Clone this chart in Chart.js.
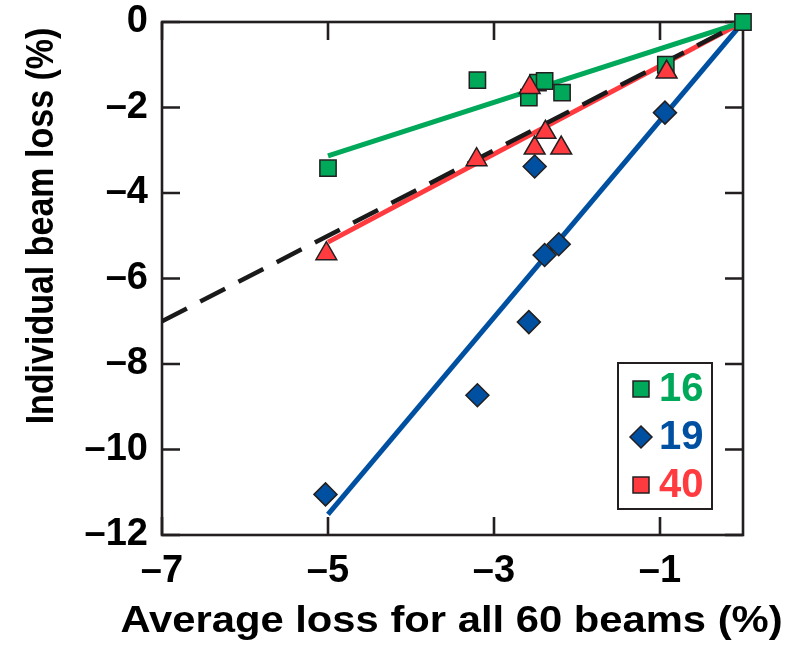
<!DOCTYPE html>
<html lang="en">
<head>
<meta charset="UTF-8">
<title>Individual beam loss vs average loss</title>
<script src="https://cdn.jsdelivr.net/npm/chart.js"></script>
<style>
  body { margin: 0; background: #fff; }
  #grafico { display: block; }
</style>
</head>
<body>
<canvas id="grafico" width="798" height="647"></canvas>
<script>
// tick labels
const xTicks = [-7, -5, -3, -1];
const yTicks = [-12, -10, -8, -6, -4, -2, 0];

// series names (legend)
const series = ['16', '19', '40'];

// measured points: average loss (x) vs individual beam loss (y), in %
const x16 = [-5.0, -3.2, -2.58, -2.47, -2.39, -2.18, -0.93, 0];
const y16 = [-3.42, -1.36, -1.77, -1.42, -1.38, -1.65, -1.0, 0];

const x19 = [-5.03, -3.2, -2.58, -2.39, -2.22, -2.51, -0.94];
const y19 = [-11.05, -8.73, -7.02, -5.45, -5.2, -3.38, -2.12];

const x40 = [-5.02, -3.21, -2.51, -2.38, -2.19, -2.57, -0.92];
const y40 = [-5.42, -3.22, -2.95, -2.58, -2.95, -1.53, -1.17];

// fitted lines (end points)
const fitX = [-5, 0];
const fit16 = [-3.13, 0];
const fit19 = [-11.52, 0];
const fit40 = [-5.15, 0];

// y = x reference
const unityX = [-7, 0];
const unityY = [-7, 0];

const verde = '#00a85a';
const azul = '#0050a2';
const vermelho = '#ff3b40';
const tinta = '#231f20';
const fonte = '"Liberation Sans", Arial, Helvetica, sans-serif';

function pontos(xs, ys) {
  return xs.map((v, i) => ({ x: v, y: ys[i] }));
}

function rotulo(v) {
  return v === 0 ? '0' : '\u2013' + Math.abs(v);
}

// frame with inward ticks on the four sides
const moldura = {
  id: 'moldura',
  beforeDatasetsDraw(chart) {
    const { ctx, chartArea: a, scales: { x, y } } = chart;
    ctx.save();
    ctx.strokeStyle = tinta;
    ctx.lineWidth = 2.6;
    ctx.strokeRect(a.left, a.top, a.right - a.left, a.bottom - a.top);
    ctx.beginPath();
    xTicks.forEach(v => {
      const px = x.getPixelForValue(v);
      ctx.moveTo(px, a.bottom); ctx.lineTo(px, a.bottom - 18);
      ctx.moveTo(px, a.top); ctx.lineTo(px, a.top + 18);
    });
    yTicks.forEach(v => {
      const py = y.getPixelForValue(v);
      ctx.moveTo(a.left, py); ctx.lineTo(a.left + 18, py);
      ctx.moveTo(a.right, py); ctx.lineTo(a.right - 18, py);
    });
    ctx.stroke();
    ctx.restore();
  }
};

// axis titles (the original lettering is a little wide, hence the stretch)
const titulos = {
  id: 'titulos',
  afterDraw(chart) {
    const { ctx, chartArea: a } = chart;
    ctx.save();
    ctx.fillStyle = '#000';
    ctx.textAlign = 'center';
    ctx.textBaseline = 'middle';
    ctx.font = 'bold 36px ' + fonte;
    ctx.translate((a.left + a.right) / 2 - 1, chart.height - 25);
    ctx.scale(1.16, 1);
    ctx.fillText('Average loss for all 60 beams (%)', 0, 0);
    ctx.restore();

    ctx.save();
    ctx.fillStyle = '#000';
    ctx.textAlign = 'center';
    ctx.textBaseline = 'middle';
    ctx.font = 'bold 34px ' + fonte;
    ctx.translate(42, 226);
    ctx.rotate(-Math.PI / 2);
    ctx.scale(1, 1.16);
    ctx.fillText('Individual beam loss (%)', 0, 0);
    ctx.restore();
  }
};

// boxed legend inside the lower right corner
const legenda = {
  id: 'legenda',
  afterDraw(chart) {
    const { ctx, chartArea: a } = chart;
    const cores = [verde, azul, vermelho];
    const formas = ['rect', 'rectRot', 'rect'];
    const bx = a.right - 125, by = a.bottom - 172;
    ctx.save();
    ctx.fillStyle = '#fff';
    ctx.fillRect(bx, by, 94, 146);
    ctx.strokeStyle = tinta;
    ctx.lineWidth = 2;
    ctx.strokeRect(bx, by, 94, 146);
    series.forEach((nome, i) => {
      const cy = by + 26 + i * 48;
      const cx = bx + 23;
      ctx.beginPath();
      if (formas[i] === 'rect') {
        ctx.rect(cx - 8, cy - 8, 16, 16);
      } else {
        ctx.moveTo(cx, cy - 11); ctx.lineTo(cx + 11, cy);
        ctx.lineTo(cx, cy + 11); ctx.lineTo(cx - 11, cy);
        ctx.closePath();
      }
      ctx.fillStyle = cores[i];
      ctx.fill();
      ctx.lineWidth = 1.5;
      ctx.strokeStyle = tinta;
      ctx.stroke();
      ctx.fillStyle = cores[i];
      ctx.font = 'bold 40px ' + fonte;
      ctx.textAlign = 'left';
      ctx.textBaseline = 'middle';
      ctx.fillText(nome, bx + 41, cy + 1);
    });
    ctx.restore();
  }
};

const config = {
  type: 'scatter',
  data: {
    datasets: [
      { label: series[0] + ' fit', data: pontos(fitX, fit16), showLine: true, borderColor: verde, borderWidth: 5, pointRadius: 0, order: 6 },
      { label: series[1] + ' fit', data: pontos(fitX, fit19), showLine: true, borderColor: azul, borderWidth: 5, pointRadius: 0, order: 6 },
      { label: series[2] + ' fit', data: pontos(fitX, fit40), showLine: true, borderColor: vermelho, borderWidth: 5, pointRadius: 0, order: 6 },
      { label: 'y = x', data: pontos(unityX, unityY), showLine: true, borderColor: '#1a1a1a', borderWidth: 4.5, borderDash: [28, 15], pointRadius: 0, order: 5 },
      { label: series[1], data: pontos(x19, y19), clip: false, pointStyle: 'rectRot', pointRadius: 11.5, pointBackgroundColor: azul, pointBorderColor: tinta, pointBorderWidth: 1.5, order: 3 },
      { label: series[0], data: pontos(x16, y16), clip: false, pointStyle: 'rect', pointRadius: 11.5, pointBackgroundColor: verde, pointBorderColor: tinta, pointBorderWidth: 1.5, order: 2 },
      { label: series[2], data: pontos(x40, y40), clip: false, pointStyle: 'triangle', pointRadius: 12, pointBackgroundColor: vermelho, pointBorderColor: tinta, pointBorderWidth: 1.5, order: 1 }
    ]
  },
  options: {
    responsive: false,
    devicePixelRatio: 1,
    animation: false,
    events: [],
    layout: { padding: { left: 0, right: 55, top: 22, bottom: 0 } },
    plugins: {
      legend: { display: false },
      tooltip: { enabled: false }
    },
    scales: {
      x: {
        type: 'linear',
        min: -7,
        max: 0,
        afterBuildTicks: s => { s.ticks = xTicks.map(v => ({ value: v })); },
        afterFit: s => { s.height = 112; s.paddingLeft = 0; s.paddingRight = 0; },
        grid: { display: false, drawTicks: false },
        border: { display: false },
        ticks: {
          color: '#000',
          padding: 14,
          maxRotation: 0,
          font: { family: fonte, size: 38, weight: 'bold', lineHeight: 1.2 },
          callback: rotulo
        }
      },
      y: {
        type: 'linear',
        min: -12,
        max: 0,
        afterBuildTicks: s => { s.ticks = yTicks.map(v => ({ value: v })); },
        afterFit: s => { s.width = 162; s.paddingTop = 0; s.paddingBottom = 0; },
        grid: { display: false, drawTicks: false },
        border: { display: false },
        ticks: {
          color: '#000',
          padding: 14,
          font: { family: fonte, size: 38, weight: 'bold', lineHeight: 1.2 },
          callback: rotulo
        }
      }
    }
  },
  plugins: [moldura, titulos, legenda]
};

const grafico = new Chart(document.getElementById('grafico'), config);
</script>
</body>
</html>
